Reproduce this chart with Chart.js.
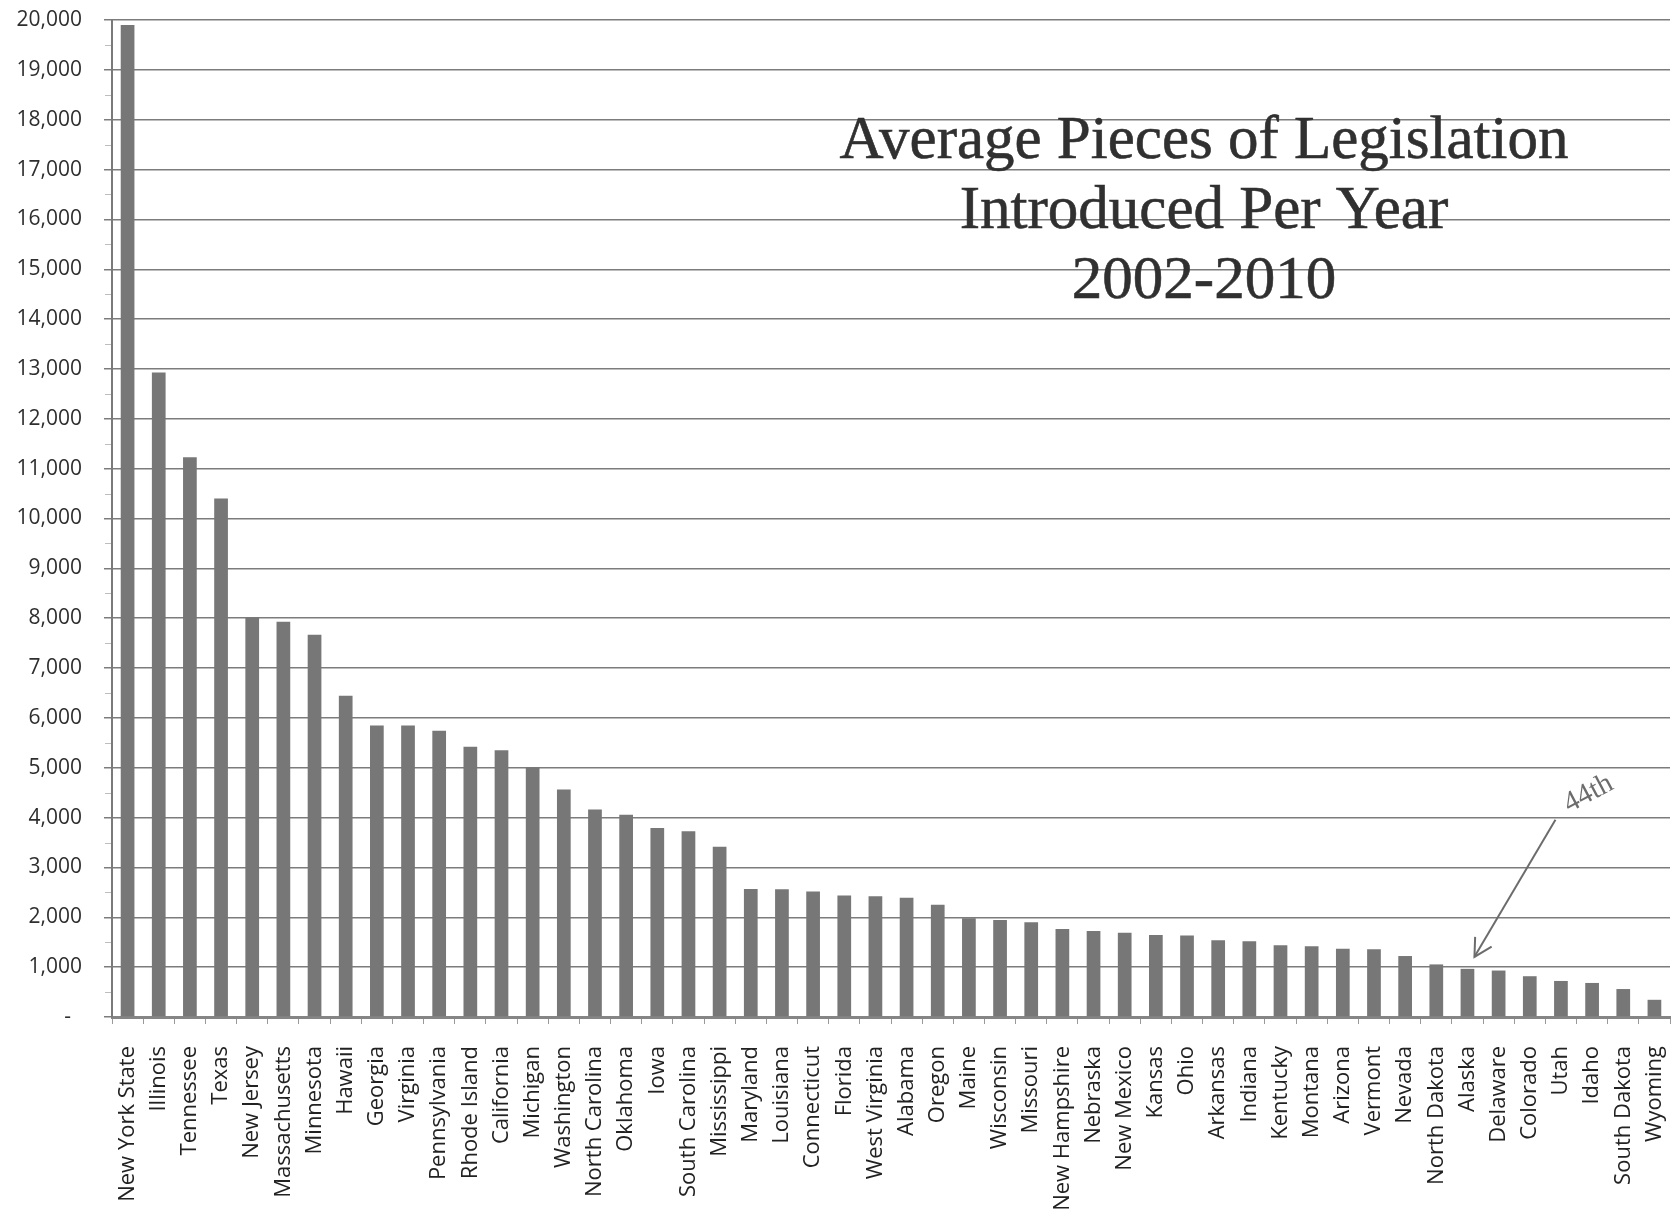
<!DOCTYPE html>
<html>
<head>
<meta charset="utf-8">
<script src="https://cdn.jsdelivr.net/npm/chart.js@4.4.1/dist/chart.umd.min.js"></script>
<style>
html, body { margin: 0; padding: 0; background: #fff; }
#wrap { width: 1676px; height: 1211px; position: relative; }
</style>
</head>
<body>
<div id="wrap"><canvas id="legChart"></canvas></div>
<script>
// States, ranked by average bills introduced per year
const states = [
    'New York State', 'Illinois', 'Tennessee', 'Texas', 'New Jersey', 'Massachusetts',
    'Minnesota', 'Hawaii', 'Georgia', 'Virginia', 'Pennsylvania', 'Rhode Island',
    'California', 'Michigan', 'Washington', 'North Carolina', 'Oklahoma', 'Iowa',
    'South Carolina', 'Mississippi', 'Maryland', 'Louisiana', 'Connecticut', 'Florida',
    'West Virginia', 'Alabama', 'Oregon', 'Maine', 'Wisconsin', 'Missouri',
    'New Hampshire', 'Nebraska', 'New Mexico', 'Kansas', 'Ohio', 'Arkansas',
    'Indiana', 'Kentucky', 'Montana', 'Arizona', 'Vermont', 'Nevada',
    'North Dakota', 'Alaska', 'Delaware', 'Colorado', 'Utah', 'Idaho',
    'South Dakota', 'Wyoming'
];

const avgBills = [
    19900, 12930, 11230, 10400, 8015, 7930,
    7670, 6445, 5850, 5850, 5740, 5420,
    5350, 5010, 4565, 4160, 4055, 3790,
    3725, 3415, 2570, 2565, 2517, 2437,
    2423, 2390, 2250, 1980, 1947, 1900,
    1765, 1725, 1690, 1645, 1635, 1540,
    1520, 1440, 1420, 1370, 1360, 1223,
    1055, 966, 932, 818, 723, 683,
    561, 345
];

const yMin = 0;
const yMax = 20000;
const yStep = 1000;

const titleLines = ['Average Pieces of Legislation', 'Introduced Per Year', '2002-2010'];
const markedState = 'Alaska';
const markedText = '44th';

// Title, minor tick marks and the "44th" arrow
const overlayPlugin = {
    id: 'overlay',
    afterDraw(chart) {
        const ctx = chart.ctx;
        const xs = chart.scales.x;
        const ys = chart.scales.y;
        const area = chart.chartArea;
        ctx.save();

        // minor ticks on the value axis
        ctx.strokeStyle = '#bdbdbd';
        ctx.lineWidth = 1;
        for (let v = yMin + yStep / 2; v < yMax; v += yStep) {
            const py = Math.round(ys.getPixelForValue(v)) + 0.5;
            ctx.beginPath();
            ctx.moveTo(area.left - 7, py);
            ctx.lineTo(area.left - 1, py);
            ctx.stroke();
        }

        // title
        ctx.fillStyle = '#303030';
        ctx.strokeStyle = '#303030';
        ctx.lineWidth = 0.6;
        ctx.font = '61px "Liberation Serif"';
        ctx.textAlign = 'center';
        ctx.textBaseline = 'alphabetic';
        titleLines.forEach((t, i) => {
            ctx.fillText(t, 1204, 158 + i * 70);
            ctx.strokeText(t, 1204, 158 + i * 70);
        });

        // arrow pointing at the marked state
        const idx = states.indexOf(markedState);
        const tipX = xs.getPixelForValue(idx) + 7;
        const tipY = ys.getPixelForValue(avgBills[idx]) - 12;
        const startX = tipX + 81;
        const startY = tipY - 137;
        ctx.strokeStyle = '#6c6c6c';
        ctx.lineWidth = 2;
        ctx.beginPath();
        ctx.moveTo(startX, startY);
        ctx.lineTo(tipX, tipY);
        ctx.stroke();
        const ang = Math.atan2(tipY - startY, tipX - startX);
        const headLen = 20;
        ctx.beginPath();
        ctx.moveTo(tipX - headLen * Math.cos(ang - 0.5), tipY - headLen * Math.sin(ang - 0.5));
        ctx.lineTo(tipX, tipY);
        ctx.lineTo(tipX - headLen * Math.cos(ang + 0.5), tipY - headLen * Math.sin(ang + 0.5));
        ctx.stroke();

        // label
        ctx.translate(startX + 33, startY - 26);
        ctx.rotate(-28 * Math.PI / 180);
        ctx.fillStyle = '#6c6c6c';
        ctx.font = '29px "Liberation Serif"';
        ctx.textAlign = 'center';
        ctx.textBaseline = 'middle';
        ctx.fillText(markedText, 0, 0);

        ctx.restore();
    }
};

const ctx = document.getElementById('legChart');
const legChart = new Chart(ctx, {
    type: 'bar',
    data: {
        labels: states,
        datasets: [{
            label: 'Average pieces of legislation',
            data: avgBills,
            backgroundColor: '#777777',
            borderWidth: 0,
            barPercentage: 0.44,
            categoryPercentage: 1.0
        }]
    },
    options: {
        responsive: true,
        maintainAspectRatio: false,
        animation: false,
        layout: {
            padding: { top: 20, right: 6, bottom: 0, left: 0 }
        },
        plugins: {
            legend: { display: false },
            title: { display: false },
            tooltip: { enabled: false }
        },
        scales: {
            x: {
                grid: {
                    display: true,
                    drawOnChartArea: false,
                    drawTicks: true,
                    tickLength: 7,
                    color: '#9a9a9a',
                    lineWidth: 1
                },
                border: { display: true, color: '#858585', width: 3 },
                ticks: {
                    autoSkip: false,
                    minRotation: 90,
                    maxRotation: 90,
                    padding: 22,
                    color: '#222222',
                    font: { family: '"Open Sans"', size: 22 }
                },
                afterFit(scale) {
                    scale.height = 194;
                    scale.paddingLeft = 0;
                    scale.paddingRight = 0;
                }
            },
            y: {
                min: yMin,
                max: yMax,
                grid: {
                    color: '#7c7c7c',
                    lineWidth: 1.5,
                    tickLength: 8
                },
                border: { display: true, color: '#7a7a7a', width: 2 },
                ticks: {
                    stepSize: yStep,
                    padding: 22,
                    color: '#2e2e2e',
                    font: { family: '"Open Sans"', size: 21 },
                    callback: function(value) {
                        return value === 0 ? '-  ' : value.toLocaleString('en-US');
                    }
                },
                afterFit(scale) {
                    scale.width = 112;
                    scale.paddingTop = 0;
                    scale.paddingBottom = 0;
                }
            }
        }
    },
    plugins: [overlayPlugin]
});
</script>
</body>
</html>
